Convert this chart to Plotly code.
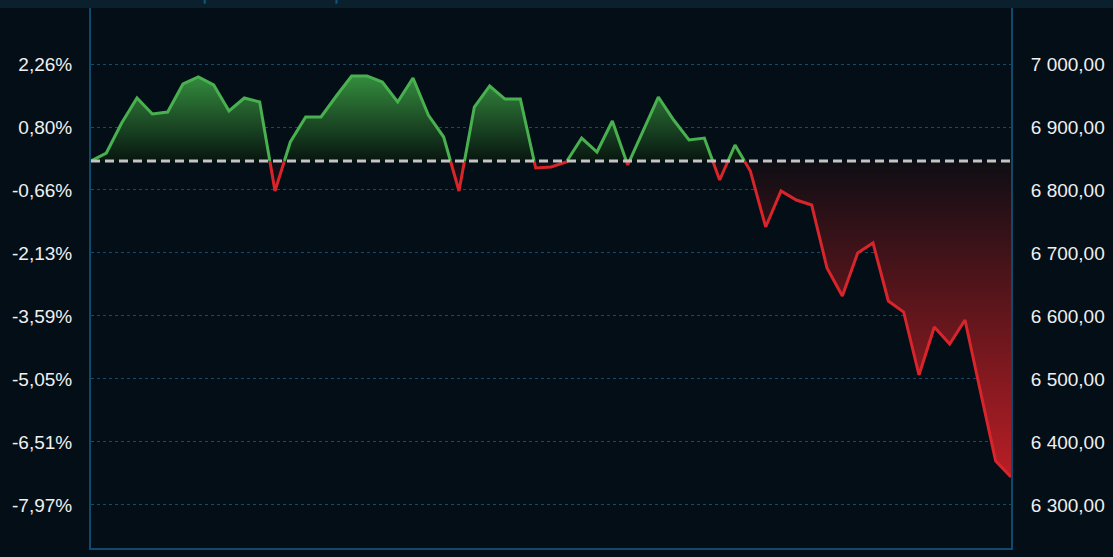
import plotly.graph_objects as go

# ---- data ----
index = list(range(61))
price = [6846.0, 6858.7, 6906.3, 6946.0, 6920.6, 6923.8, 6968.3, 6979.4, 6966.7, 6925.4,
         6946.0, 6939.7, 6798.4, 6876.2, 6915.9, 6915.9, 6949.2, 6981.0, 6981.0, 6971.4,
         6939.7, 6977.8, 6919.0, 6884.1, 6798.4, 6931.7, 6965.1, 6944.4, 6944.4, 6834.9,
         6836.5, 6844.4, 6882.5, 6860.3, 6909.5, 6839.7, 6893.7, 6947.6, 6911.1, 6879.4,
         6882.5, 6815.9, 6871.4, 6830.2, 6741.3, 6798.4, 6784.1, 6776.2, 6676.2, 6631.7,
         6700.0, 6715.9, 6623.8, 6606.3, 6506.3, 6582.5, 6555.6, 6593.7, 6481.0, 6369.8,
         6344.4]
base_price = 6846.0
price_ticks = [7000, 6900, 6800, 6700, 6600, 6500, 6400, 6300]
price_labels = ["7 000,00", "6 900,00", "6 800,00", "6 700,00",
                "6 600,00", "6 500,00", "6 400,00", "6 300,00"]
pct_labels = ["2,26%", "0,80%", "-0,66%", "-2,13%", "-3,59%", "-5,05%", "-6,51%", "-7,97%"]
y_range = [6231.7, 7088.9]

# ---- split series at baseline crossings ----
xs, ys = [], []
for i in range(len(price) - 1):
    xs.append(index[i]); ys.append(price[i])
    a, b = price[i] - base_price, price[i + 1] - base_price
    if a * b < 0:
        t = (base_price - price[i]) / (price[i + 1] - price[i])
        xs.append(index[i] + t); ys.append(base_price)
xs.append(index[-1]); ys.append(price[-1])

above = [max(v, base_price) for v in ys]
below = [min(v, base_price) for v in ys]
green_y = [v if v >= base_price else None for v in ys]
red_y = [v if v <= base_price else None for v in ys]
basel = [base_price] * len(xs)

GREEN = "#48b04f"
RED = "#d8252b"
BG = "#040e16"
FRAME = "#0f4a6c"
GRID = "#17496a"
TXT = "#f0f0f0"
FONT = "Liberation Sans, Arial, sans-serif"

fig = go.Figure()
fig.add_trace(go.Scatter(x=xs, y=basel, mode="lines", line=dict(width=0),
                         hoverinfo="skip", showlegend=False))
fig.add_trace(go.Scatter(x=xs, y=above, mode="lines", line=dict(width=0), fill="tonexty",
                         fillgradient=dict(type="vertical",
                                           colorscale=[[0, "rgba(8,22,16,1)"], [1, "rgba(52,140,62,1)"]],
                                           start=base_price, stop=max(price)),
                         hoverinfo="skip", showlegend=False))
fig.add_trace(go.Scatter(x=xs, y=basel, mode="lines", line=dict(width=0),
                         hoverinfo="skip", showlegend=False))
fig.add_trace(go.Scatter(x=xs, y=below, mode="lines", line=dict(width=0), fill="tonexty",
                         fillgradient=dict(type="vertical",
                                           colorscale=[[0, "rgba(185,30,37,1)"], [1, "rgba(14,14,20,1)"]],
                                           start=min(price), stop=base_price),
                         hoverinfo="skip", showlegend=False))
fig.add_trace(go.Scatter(x=[index[0], index[-1]], y=[base_price, base_price], mode="lines",
                         line=dict(color="#c4c4c4", width=3, dash="9px,5px"),
                         yaxis="y2", hoverinfo="skip", showlegend=False))
fig.add_trace(go.Scatter(x=xs, y=green_y, mode="lines", connectgaps=False,
                         line=dict(color=GREEN, width=3), showlegend=False))
fig.add_trace(go.Scatter(x=xs, y=red_y, mode="lines", connectgaps=False,
                         line=dict(color=RED, width=3), showlegend=False))

fig.update_layout(
    width=1113, height=557,
    margin=dict(l=91, r=96, t=8, b=9),
    paper_bgcolor=BG, plot_bgcolor=BG,
    font=dict(family=FONT, size=19, color=TXT),
    showlegend=False,
    xaxis=dict(range=[index[0], index[-1]], showgrid=False, zeroline=False,
               showticklabels=False, ticks="", showline=True, linecolor=FRAME, linewidth=2),
    yaxis=dict(range=y_range, tickvals=price_ticks, ticktext=pct_labels, side="left",
               showgrid=True, gridcolor=GRID, griddash="dot", gridwidth=1,
               zeroline=False, showline=True, linecolor=FRAME, linewidth=2,
               ticks="", ticklabelstandoff=13),
    yaxis2=dict(range=y_range, tickvals=price_ticks, ticktext=price_labels, side="right",
                overlaying="y", showgrid=False, zeroline=False, showline=True,
                linecolor=FRAME, linewidth=2, ticks="", ticklabelstandoff=14),
    shapes=[
        dict(type="rect", xref="paper", yref="paper", x0=-0.2, x1=1.2, y0=1.0, y1=1.03,
             fillcolor="#0b202d", line=dict(width=0), layer="below"),
        dict(type="line", xref="paper", yref="paper", x0=0.1236, x1=0.1236, y0=1.008, y1=1.017,
             line=dict(color="#11577f", width=2)),
        dict(type="line", xref="paper", yref="paper", x0=0.2668, x1=0.2668, y0=1.008, y1=1.017,
             line=dict(color="#11577f", width=2)),
    ],
)

fig.write_html("out.html", config={"displayModeBar": False, "staticPlot": True},
               post_script="document.body.style.margin='0px';document.body.style.overflow='hidden';document.body.style.background='#040e16';")
